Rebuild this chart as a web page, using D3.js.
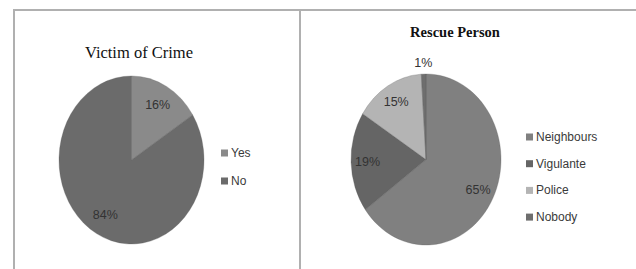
<!DOCTYPE html>
<html>
<head>
<meta charset="utf-8">
<script src="https://cdn.jsdelivr.net/npm/d3@7"></script>
<style>
  body { margin: 0; background: #fff; }
  svg { display: block; }
</style>
</head>
<body>
<div id="chart"></div>
<script>
var victimLabels = ["Yes", "No"];
var victimValues = [16, 84];
var victimColors = ["#8a8a8a", "#6b6b6b"];

var rescueLabels = ["Neighbours", "Vigulante", "Police", "Nobody"];
var rescueValues = [65, 19, 15, 1];
var rescueColors = ["#808080", "#656565", "#b4b4b4", "#6e6e6e"];

var w = 636, h = 269;
var svg = d3.select("#chart").append("svg")
            .attr("width", w)
            .attr("height", h);

// panel borders
var border = "#b0b0b0";
svg.append("line").attr("x1", 13).attr("x2", w).attr("y1", 10).attr("y2", 10)
   .attr("stroke", border).attr("stroke-width", 2);
svg.append("line").attr("x1", 14).attr("x2", 14).attr("y1", 9).attr("y2", h)
   .attr("stroke", border).attr("stroke-width", 2);
svg.append("line").attr("x1", 300).attr("x2", 300).attr("y1", 9).attr("y2", h)
   .attr("stroke", border).attr("stroke-width", 2);

function drawPie(opts) {
    var pie = d3.pie().sort(null).value(d => d.value);
    var data = pie(opts.labels.map((l, i) => ({ label: l, value: opts.values[i] })));
    var arc = d3.arc().innerRadius(0).outerRadius(opts.rx);
    var sy = opts.ry / opts.rx;

    var g = svg.append("g")
               .attr("transform", "translate(" + opts.cx + "," + opts.cy + ")");

    g.append("g")
     .attr("transform", "scale(1," + sy + ")")
     .selectAll("path")
     .data(data)
     .enter()
     .append("path")
     .attr("d", arc)
     .attr("fill", (d, i) => opts.colors[i])
     .attr("stroke", "#5a5a5a")
     .attr("stroke-opacity", 0.35)
     .attr("stroke-width", 0.8);

    g.selectAll("text")
     .data(data)
     .enter()
     .append("text")
     .attr("x", d => {
         var a = (d.startAngle + d.endAngle) / 2;
         return Math.sin(a) * opts.rx * opts.labelR(d);
     })
     .attr("y", d => {
         var a = (d.startAngle + d.endAngle) / 2;
         return -Math.cos(a) * opts.ry * opts.labelR(d);
     })
     .attr("text-anchor", "middle")
     .attr("dominant-baseline", "central")
     .attr("font-family", "'Liberation Sans', Arial, sans-serif")
     .attr("font-size", 12.5)
     .attr("fill", "#333")
     .text(d => d.data.value + "%");

    // legend
    var lg = svg.append("g")
                .attr("transform", "translate(" + opts.legendX + "," + opts.legendY + ")");
    var items = lg.selectAll("g")
                  .data(opts.labels)
                  .enter()
                  .append("g")
                  .attr("transform", (d, i) => "translate(0," + (i * opts.legendStep) + ")");
    items.append("rect")
         .attr("x", 0).attr("y", -3.5)
         .attr("width", 7).attr("height", 7)
         .attr("fill", (d, i) => opts.colors[i]);
    items.append("text")
         .attr("x", 10)
         .attr("y", 0)
         .attr("dominant-baseline", "central")
         .attr("font-family", "'Liberation Sans', Arial, sans-serif")
         .attr("font-size", 12)
         .attr("fill", "#3a3a3a")
         .text(d => d);

    svg.append("text")
       .attr("x", opts.titleX)
       .attr("y", opts.titleY)
       .attr("text-anchor", "middle")
       .attr("font-family", "'Liberation Serif', 'Times New Roman', serif")
       .attr("font-size", opts.titleSize)
       .attr("font-weight", opts.titleWeight)
       .attr("fill", "#111")
       .text(opts.title);
}

drawPie({
    labels: victimLabels, values: victimValues, colors: victimColors,
    cx: 131.5, cy: 160, rx: 72.5, ry: 84,
    labelR: d => 0.75,
    legendX: 221, legendY: 153, legendStep: 28,
    title: "Victim of Crime", titleX: 139, titleY: 58, titleSize: 16.5, titleWeight: "normal"
});

drawPie({
    labels: rescueLabels, values: rescueValues, colors: rescueColors,
    cx: 426, cy: 159.5, rx: 75, ry: 85.5,
    labelR: d => d.data.value < 3 ? 1.13 : 0.78,
    legendX: 526, legendY: 137, legendStep: 26.7,
    title: "Rescue Person", titleX: 455, titleY: 37, titleSize: 14.5, titleWeight: "bold"
});
</script>
</body>
</html>
